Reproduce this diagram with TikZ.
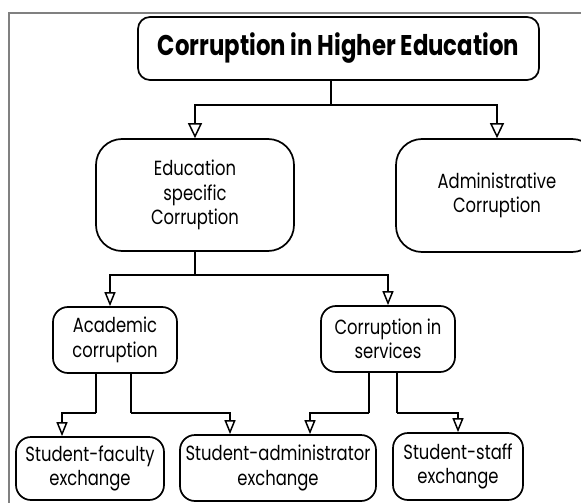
\documentclass[tikz,border=0pt]{standalone}
\usepackage{fontspec}
\setmainfont[FakeStretch=0.8]{Poppins}
\usetikzlibrary{arrows.meta}
\begin{document}
\begin{tikzpicture}[x=1pt,y=-1pt,
  box/.style={draw,line width=1.7pt,inner sep=0pt,align=center,
    font=\fontsize{20.5}{24.5}\selectfont},
  conn/.style={line width=1.7pt},
  arr/.style={conn,-{Triangle[open,length=15pt,width=14pt,line width=1.5pt]}},
  arrs/.style={conn,-{Triangle[open,length=14pt,width=11pt,line width=1.5pt]}},
  frameline/.style={draw=gray,line width=1.2pt}]
\useasboundingbox (0,0) rectangle (581,503);
\draw[frameline] (9,503) -- (9,13) -- (581,13);
\node[box,rounded corners=12pt,minimum width=401pt,minimum height=63pt,
  font=\fontsize{28.5}{30}\selectfont\bfseries] (title) at (338.5,48.5) {Corruption in Higher Education};
\node[box,rounded corners=26pt,minimum width=198pt,minimum height=112pt] (edu) at (195,195) {Education\\specific\\Corruption};
\node[box,rounded corners=26pt,minimum width=202pt,minimum height=113pt] (admin) at (497,195.5) {Administrative\\Corruption};
\node[box,rounded corners=15pt,minimum width=124pt,minimum height=66pt] (acad) at (115,340) {Academic\\corruption};
\node[box,rounded corners=15pt,minimum width=134pt,minimum height=66pt] (serv) at (388,339) {Corruption in\\services};
\node[box,rounded corners=15pt,minimum width=148pt,minimum height=63pt] (fac) at (90,468.5) {Student-faculty\\exchange};
\node[box,rounded corners=15pt,minimum width=196pt,minimum height=66pt] (adm) at (278,468) {Student-administrator\\exchange};
\node[box,rounded corners=15pt,minimum width=130pt,minimum height=67pt] (staff) at (458,466.5) {Student-staff\\exchange};
% title to level 2
\coordinate (t0) at ([xshift=-7.5pt]title.south);
\draw[conn] (t0) -- (t0 |- 0,105);
\draw[arr] (t0 |- 0,105) -| (edu.north);
\draw[arr] (t0 |- 0,105) -| (admin.north);
% edu to level 3
\draw[conn] (edu.south) -- (edu.south |- 0,275);
\draw[arrs] (edu.south |- 0,275) -| ([xshift=-5pt]acad.north);
\draw[arrs] (edu.south |- 0,275) -| (serv.north);
% academic to level 4
\coordinate (a1) at ([xshift=-19pt]acad.south);
\coordinate (a2) at ([xshift=16pt]acad.south);
\draw[conn] (a1) -- (a1 |- 0,413);
\draw[arrs] (a1 |- 0,413) -| ([xshift=-28pt]fac.north);
\draw[conn] (a2) -- (a2 |- 0,413);
\draw[arrs] (a2 |- 0,413) -| ([xshift=-48pt]adm.north);
% services to level 4
\coordinate (s1) at ([xshift=-19pt]serv.south);
\coordinate (s2) at ([xshift=9pt]serv.south);
\draw[conn] (s1) -- (s1 |- 0,413);
\draw[arrs] (s1 |- 0,413) -| ([xshift=32pt]adm.north);
\draw[conn] (s2) -- (s2 |- 0,413);
\draw[arrs] (s2 |- 0,413) -| (staff.north);
\end{tikzpicture}
\end{document}
